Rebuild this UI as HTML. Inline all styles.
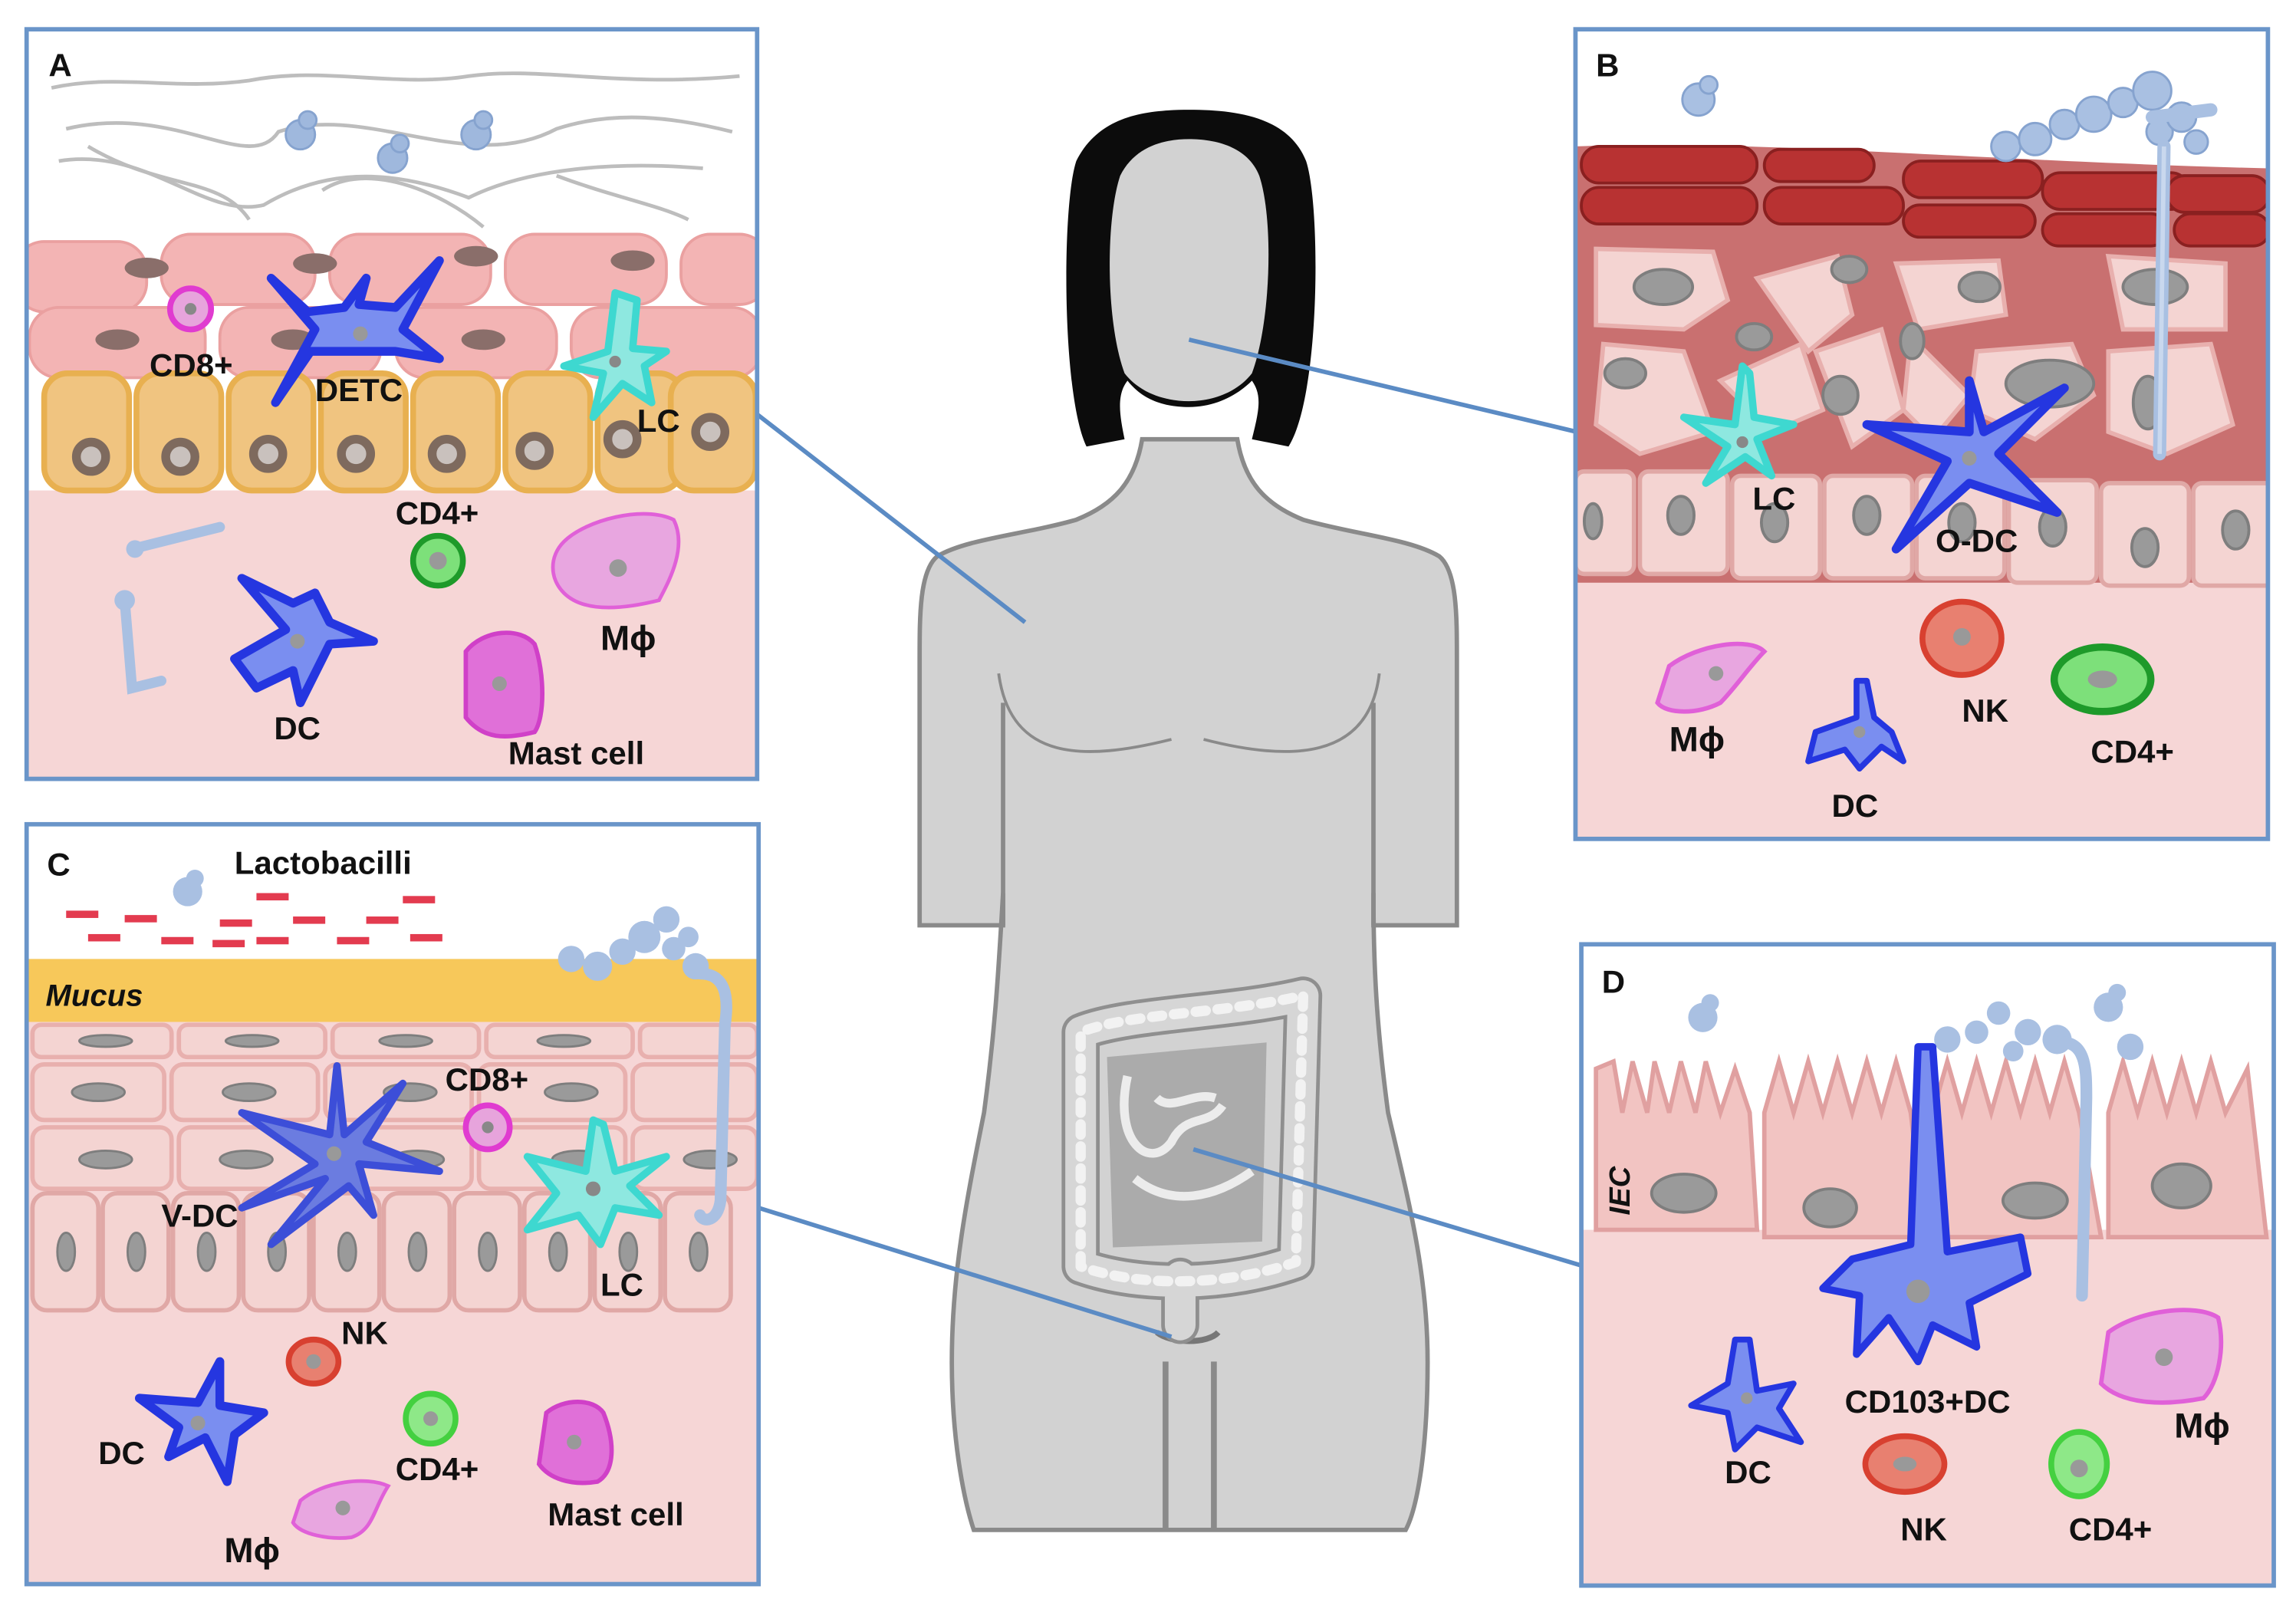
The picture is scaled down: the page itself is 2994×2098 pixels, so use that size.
<!DOCTYPE html>
<html><head><meta charset="utf-8"><style>
html,body{margin:0;padding:0;background:#fff}
svg{display:block}
text{font-family:"Liberation Sans",sans-serif;font-weight:bold;fill:#111}
</style></head><body>
<svg width="2994" height="2098" viewBox="0 0 1568 1099" xmlns="http://www.w3.org/2000/svg">
<defs>
<clipPath id="cA"><rect x="18" y="20" width="499" height="512"/></clipPath>
<clipPath id="cB"><rect x="1076" y="20" width="473" height="553"/></clipPath>
<clipPath id="cC"><rect x="18" y="563" width="500" height="519"/></clipPath>
<clipPath id="cD"><rect x="1080" y="645" width="473" height="438"/></clipPath>
</defs>
<rect width="1568" height="1099" fill="#fff"/>

<!-- BODY -->
<g>
<path d="M780 300 C775 330 760 345 735 355 C700 365 660 368 640 380 C628 390 628 420 628 450 L628 632 L685 632 L685 610 C682 660 680 700 672 760 C660 820 650 870 650 930 C650 990 660 1030 665 1045 L960 1045 C968 1030 975 990 975 930 C975 870 962 820 948 760 C940 700 938 660 938 610 L938 632 L995 632 L995 450 C995 420 995 390 983 380 C963 368 925 365 890 355 C865 345 850 330 845 300 Z" fill="#d2d2d2" stroke="#8a8a8a" stroke-width="3"/>
<path d="M685 480 L685 632 M938 480 L938 632" stroke="#8a8a8a" stroke-width="3" fill="none"/>
<path d="M682 460 C690 520 740 520 800 505 M822 505 C880 520 935 520 942 460" stroke="#8a8a8a" stroke-width="2" fill="none"/>
<path d="M796 930 L796 1045 M829 930 L829 1045" stroke="#8a8a8a" stroke-width="4"/>
<path d="M790 910 C800 918 825 918 832 910" stroke="#777" stroke-width="4" fill="none"/>
<path d="M742 305 C725 270 725 140 735 110 C750 80 780 75 812 75 C845 75 880 80 892 110 C902 140 902 270 880 305 L855 300 C860 280 862 270 855 260 C845 270 830 278 812 278 C790 278 778 270 770 260 C762 270 765 285 768 300 Z" fill="#0c0c0c"/>
<path d="M768 255 C755 220 755 150 765 120 C775 100 795 95 812 95 C830 95 852 100 860 120 C870 150 868 220 855 255 C845 268 828 274 812 274 C795 274 778 268 768 255 Z" fill="#d2d2d2"/>
<!-- intestines -->
<path d="M756 722 L865 712 L862 848 L760 852 Z" fill="#ababab"/>
<path d="M770 735 C760 780 785 800 800 780 C810 760 825 770 835 755 M775 805 C800 825 830 818 855 800 M790 750 C800 760 815 745 830 750" stroke="#ececec" stroke-width="6" fill="none"/>
<g fill="none" stroke-linecap="round" stroke-linejoin="round">
<path d="M738 865 L738 705 C770 692 840 692 890 680 L885 862 C840 878 780 880 738 865 M806 872 L806 905" stroke="#8f8f8f" stroke-width="26"/>
<path d="M738 865 L738 705 C770 692 840 692 890 680 L885 862 C840 878 780 880 738 865 M806 872 L806 905" stroke="#d6d6d6" stroke-width="21"/>
<path d="M738 865 L738 705 C770 692 840 692 890 680 L885 862 C840 878 780 880 738 865" stroke="#f2f2f2" stroke-width="7" stroke-dasharray="7 8"/>
</g>
</g>

<!-- connectors -->
<g stroke="#5b8bc4" stroke-width="3" fill="none">
<line x1="517" y1="283" x2="700" y2="425"/>
<line x1="812" y1="232" x2="1077" y2="295"/>
<line x1="518" y1="825" x2="800" y2="913"/>
<line x1="815" y1="785" x2="1082" y2="865"/>
</g>

<!-- PANEL A -->
<g clip-path="url(#cA)">
<rect x="18" y="20" width="499" height="512" fill="#fff"/>
<rect x="18" y="335" width="499" height="200" fill="#f6d6d6"/>
<g stroke="#bdbdbd" stroke-width="2.5" fill="none">
<path d="M35 60 C80 50 120 62 170 55 C220 45 270 60 320 52 C370 45 420 60 505 52"/>
<path d="M45 88 C120 70 170 120 190 90 C250 70 320 120 380 88 C420 75 460 80 500 90"/>
<path d="M40 110 C100 100 140 150 180 140 C230 110 280 120 320 135 C360 115 420 110 480 115"/>
<path d="M60 100 C110 130 150 120 170 150 M220 130 C250 110 300 130 330 155 M380 120 C420 135 450 140 470 150"/>
</g>
<g fill="#9fb8dd" stroke="#86a3cf" stroke-width="1.5">
<circle cx="205" cy="92" r="10"/><circle cx="210" cy="82" r="6"/>
<circle cx="268" cy="108" r="10"/><circle cx="273" cy="98" r="6"/>
<circle cx="325" cy="92" r="10"/><circle cx="330" cy="82" r="6"/>
</g>
<g fill="#f3b4b4" stroke="#eaa0a0" stroke-width="2">
<rect x="10" y="165" width="90" height="48" rx="20"/>
<rect x="110" y="160" width="105" height="48" rx="20"/>
<rect x="225" y="160" width="110" height="48" rx="20"/>
<rect x="345" y="160" width="110" height="48" rx="20"/>
<rect x="465" y="160" width="60" height="48" rx="20"/>
<rect x="20" y="210" width="120" height="48" rx="20"/>
<rect x="150" y="210" width="110" height="48" rx="20"/>
<rect x="270" y="210" width="110" height="48" rx="20"/>
<rect x="390" y="210" width="130" height="48" rx="20"/>
</g>
<g fill="#8a6e6a"><ellipse cx="100" cy="183" rx="15" ry="7"/><ellipse cx="215" cy="180" rx="15" ry="7"/><ellipse cx="325" cy="175" rx="15" ry="7"/><ellipse cx="432" cy="178" rx="15" ry="7"/><ellipse cx="80" cy="232" rx="15" ry="7"/><ellipse cx="200" cy="232" rx="15" ry="7"/><ellipse cx="330" cy="232" rx="15" ry="7"/></g>
<g fill="#f0c480" stroke="#e8b050" stroke-width="4">
<rect x="30" y="255" width="58" height="80" rx="16"/><rect x="93" y="255" width="58" height="80" rx="16"/><rect x="156" y="255" width="58" height="80" rx="16"/><rect x="219" y="255" width="58" height="80" rx="16"/><rect x="282" y="255" width="58" height="80" rx="16"/><rect x="345" y="255" width="58" height="80" rx="16"/><rect x="408" y="255" width="58" height="80" rx="16"/><rect x="458" y="255" width="58" height="80" rx="16"/>
</g>
<g fill="#c9c1bd" stroke="#7e6a5e" stroke-width="6"><circle cx="62" cy="312" r="10"/><circle cx="123" cy="312" r="10"/><circle cx="183" cy="310" r="10"/><circle cx="243" cy="310" r="10"/><circle cx="305" cy="310" r="10"/><circle cx="365" cy="308" r="10"/><circle cx="425" cy="300" r="10"/><circle cx="485" cy="295" r="10"/></g>
<circle cx="130" cy="211" r="14" fill="#e7a4dc" stroke="#e03bd0" stroke-width="4"/><circle cx="130" cy="211" r="4" fill="#888"/>
<path d="M185 190 L215 225 L188 275 L212 240 L270 240 L300 245 L275 225 L300 178 L270 210 L245 208 L250 190 L235 210 L210 213 Z" fill="#7a8ef0" stroke="#2536e0" stroke-width="6" stroke-linejoin="round"/>
<circle cx="246" cy="228" r="5" fill="#999"/>
<path d="M420 200 L415 240 L385 250 L412 255 L405 285 L425 262 L445 275 L440 250 L455 240 L432 238 L435 205 Z" fill="#8ee8e0" stroke="#3ed8d0" stroke-width="5" stroke-linejoin="round"/>
<circle cx="420" cy="247" r="4" fill="#888"/>
<path d="M90 375 L150 360 M85 410 L90 470 L110 465" stroke="#a9c0e2" stroke-width="7" stroke-linecap="round" fill="none"/>
<circle cx="92" cy="375" r="6" fill="#a9c0e2"/><circle cx="85" cy="410" r="7" fill="#a9c0e2"/>
<path d="M165 395 L195 430 L160 450 L175 470 L200 458 L205 480 L225 440 L255 438 L225 425 L215 405 L200 412 Z" fill="#7a8ef0" stroke="#2536e0" stroke-width="6" stroke-linejoin="round"/>
<circle cx="203" cy="438" r="5" fill="#999"/>
<circle cx="299" cy="383" r="17" fill="#7de07a" stroke="#1e9a2a" stroke-width="4"/><circle cx="299" cy="383" r="6" fill="#999"/>
<path d="M385 370 C400 355 440 345 460 355 C470 375 455 400 450 410 C430 415 400 420 385 405 C375 395 375 380 385 370 Z" fill="#e8a6e0" stroke="#e060d8" stroke-width="2.5"/>
<circle cx="422" cy="388" r="6" fill="#999"/>
<path d="M318 445 C330 430 355 428 365 440 C372 460 372 490 365 500 C345 505 330 505 318 490 Z" fill="#e070d8" stroke="#d040c8" stroke-width="3"/>
<circle cx="341" cy="467" r="5" fill="#999"/>
</g>
<rect x="18" y="20" width="499" height="512" fill="none" stroke="#6a95c9" stroke-width="3"/>
<text x="33" y="52" font-size="22">A</text>
<text x="102" y="257" font-size="22">CD8+</text>
<text x="215" y="274" font-size="22">DETC</text>
<text x="435" y="295" font-size="22">LC</text>
<text x="270" y="358" font-size="22">CD4+</text>
<text x="410" y="444" font-size="24">Mϕ</text>
<text x="187" y="505" font-size="22">DC</text>
<text x="347" y="522" font-size="22">Mast cell</text>

<!-- PANEL B -->
<g clip-path="url(#cB)">
<rect x="1076" y="20" width="473" height="553" fill="#fff"/>
<path d="M1076 100 C1200 95 1350 110 1549 115 L1549 410 C1400 400 1200 405 1076 398 Z" fill="#c97070"/>
<rect x="1076" y="398" width="473" height="180" fill="#f6d6d6"/>
<g fill="#b83232" stroke="#8a2020" stroke-width="2">
<rect x="1080" y="100" width="120" height="25" rx="12"/><rect x="1080" y="128" width="120" height="25" rx="12"/>
<rect x="1205" y="102" width="75" height="22" rx="11"/><rect x="1205" y="128" width="95" height="25" rx="12"/>
<rect x="1300" y="110" width="95" height="25" rx="12"/><rect x="1300" y="140" width="90" height="22" rx="11"/>
<rect x="1395" y="118" width="100" height="25" rx="12"/><rect x="1395" y="146" width="85" height="22" rx="11"/>
<rect x="1480" y="120" width="70" height="25" rx="12"/><rect x="1485" y="146" width="65" height="22" rx="11"/>
</g>
<g fill="#f4d4d2" stroke="#e8b0ae" stroke-width="3">
<path d="M1090 170 L1170 172 L1180 205 L1150 225 L1090 222 Z"/>
<path d="M1200 190 L1255 175 L1265 215 L1235 240 Z"/>
<path d="M1295 180 L1365 178 L1370 215 L1310 225 Z"/>
<path d="M1440 175 L1520 180 L1520 225 L1450 225 Z"/>
<path d="M1095 235 L1150 240 L1170 295 L1120 310 L1090 290 Z"/>
<path d="M1175 260 L1230 235 L1245 280 L1210 295 Z"/>
<path d="M1240 240 L1285 225 L1300 280 L1265 305 Z"/>
<path d="M1305 230 L1345 270 L1320 300 L1300 280 Z"/>
<path d="M1350 240 L1415 235 L1430 270 L1390 300 L1345 280 Z"/>
<path d="M1440 240 L1510 235 L1525 290 L1480 310 L1440 295 Z"/>
</g>
<g fill="#9a9a9a" stroke="#7e7e7e" stroke-width="2"><ellipse cx="1136" cy="196" rx="20" ry="12"/><ellipse cx="1263" cy="184" rx="12" ry="9"/><ellipse cx="1352" cy="196" rx="14" ry="10"/><ellipse cx="1472" cy="196" rx="22" ry="12"/><ellipse cx="1110" cy="255" rx="14" ry="10"/><ellipse cx="1198" cy="230" rx="12" ry="9"/><ellipse cx="1257" cy="270" rx="12" ry="13"/><ellipse cx="1306" cy="233" rx="8" ry="12"/><ellipse cx="1400" cy="262" rx="30" ry="16"/><ellipse cx="1467" cy="275" rx="10" ry="18"/></g>
<g fill="#f4d4d2" stroke="#e0a8a6" stroke-width="3">
<rect x="1076" y="322" width="40" height="70" rx="6"/><rect x="1120" y="322" width="60" height="70" rx="6"/><rect x="1183" y="325" width="60" height="70" rx="6"/><rect x="1246" y="325" width="60" height="70" rx="6"/><rect x="1309" y="325" width="60" height="70" rx="6"/><rect x="1372" y="328" width="60" height="70" rx="6"/><rect x="1435" y="330" width="60" height="70" rx="6"/><rect x="1498" y="330" width="55" height="70" rx="6"/>
</g>
<g fill="#9a9a9a" stroke="#7e7e7e" stroke-width="2"><ellipse cx="1088" cy="356" rx="6" ry="12"/><ellipse cx="1148" cy="352" rx="9" ry="13"/><ellipse cx="1212" cy="357" rx="9" ry="13"/><ellipse cx="1275" cy="352" rx="9" ry="13"/><ellipse cx="1340" cy="357" rx="9" ry="13"/><ellipse cx="1402" cy="360" rx="9" ry="13"/><ellipse cx="1465" cy="374" rx="9" ry="13"/><ellipse cx="1527" cy="362" rx="9" ry="13"/></g>
<g fill="#a9c0e2" stroke="#86a3cf" stroke-width="1.5">
<circle cx="1160" cy="68" r="11"/><circle cx="1167" cy="58" r="6"/>
<circle cx="1370" cy="100" r="10"/><circle cx="1390" cy="95" r="11"/><circle cx="1410" cy="85" r="10"/><circle cx="1430" cy="78" r="12"/><circle cx="1450" cy="70" r="10"/><circle cx="1470" cy="62" r="13"/><circle cx="1475" cy="90" r="9"/><circle cx="1490" cy="80" r="10"/><circle cx="1500" cy="97" r="8"/>
</g>
<path d="M1470 80 L1510 75 M1478 100 L1475 310" stroke="#a9c0e2" stroke-width="9" stroke-linecap="round" fill="none"/>
<path d="M1478 100 L1475 310" stroke="#c9d8ee" stroke-width="3" fill="none"/>
<path d="M1190 250 L1185 290 L1150 285 L1180 305 L1165 330 L1192 312 L1210 325 L1200 300 L1225 290 L1198 285 L1195 255 Z" fill="#8ee8e0" stroke="#3ed8d0" stroke-width="5" stroke-linejoin="round"/>
<circle cx="1190" cy="302" r="4" fill="#888"/>
<path d="M1345 260 L1345 295 L1275 290 L1330 315 L1295 375 L1345 330 L1405 350 L1365 310 L1410 265 L1355 295 Z" fill="#7a8ef0" stroke="#2536e0" stroke-width="6" stroke-linejoin="round"/>
<circle cx="1345" cy="313" r="5" fill="#999"/>
<path d="M1140 455 C1160 440 1195 435 1205 445 C1195 455 1185 470 1175 480 C1160 488 1138 488 1132 480 Z" fill="#e8a6e0" stroke="#e060d8" stroke-width="3"/>
<circle cx="1172" cy="460" r="5" fill="#999"/>
<path d="M1268 465 L1268 490 L1240 500 L1235 520 L1260 512 L1270 525 L1285 510 L1300 520 L1292 500 L1280 490 L1275 465 Z" fill="#7a8ef0" stroke="#2536e0" stroke-width="4" stroke-linejoin="round"/>
<circle cx="1270" cy="500" r="4" fill="#999"/>
<ellipse cx="1340" cy="436" rx="27" ry="25" fill="#e88070" stroke="#d84030" stroke-width="4"/><circle cx="1340" cy="435" r="6" fill="#999"/>
<ellipse cx="1436" cy="464" rx="33" ry="22" fill="#7de07a" stroke="#1e9a2a" stroke-width="5"/><ellipse cx="1436" cy="464" rx="10" ry="6" fill="#999"/>
</g>
<rect x="1076" y="20" width="473" height="553" fill="none" stroke="#6a95c9" stroke-width="3"/>
<text x="1090" y="52" font-size="22">B</text>
<text x="1197" y="348" font-size="22">LC</text>
<text x="1322" y="377" font-size="22">O-DC</text>
<text x="1340" y="493" font-size="22">NK</text>
<text x="1140" y="513" font-size="24">Mϕ</text>
<text x="1428" y="521" font-size="22">CD4+</text>
<text x="1251" y="558" font-size="22">DC</text>

<!-- PANEL C -->
<g clip-path="url(#cC)">
<rect x="18" y="563" width="500" height="519" fill="#fff"/>
<rect x="18" y="655" width="500" height="45" fill="#f7c85a"/>
<rect x="18" y="698" width="500" height="390" fill="#f6d6d6"/>
<g fill="#e33b4f"><rect x="45" y="622" width="22" height="5"/><rect x="85" y="625" width="22" height="5"/><rect x="60" y="638" width="22" height="5"/><rect x="110" y="640" width="22" height="5"/><rect x="150" y="628" width="22" height="5"/><rect x="175" y="610" width="22" height="5"/><rect x="200" y="626" width="22" height="5"/><rect x="175" y="640" width="22" height="5"/><rect x="230" y="640" width="22" height="5"/><rect x="250" y="626" width="22" height="5"/><rect x="275" y="612" width="22" height="5"/><rect x="280" y="638" width="22" height="5"/><rect x="145" y="642" width="22" height="5"/></g>
<circle cx="128" cy="609" r="10" fill="#a9c0e2"/><circle cx="133" cy="600" r="6" fill="#a9c0e2"/>
<g fill="#f4d4d2" stroke="#e8b0ae" stroke-width="3">
<rect x="22" y="700" width="95" height="22" rx="6"/><rect x="122" y="700" width="100" height="22" rx="6"/><rect x="227" y="700" width="100" height="22" rx="6"/><rect x="332" y="700" width="100" height="22" rx="6"/><rect x="437" y="700" width="80" height="22" rx="6"/>
<rect x="22" y="727" width="90" height="38" rx="8"/><rect x="117" y="727" width="100" height="38" rx="8"/><rect x="222" y="727" width="100" height="38" rx="8"/><rect x="327" y="727" width="100" height="38" rx="8"/><rect x="432" y="727" width="85" height="38" rx="8"/>
<rect x="22" y="770" width="95" height="42" rx="8"/><rect x="122" y="770" width="95" height="42" rx="8"/><rect x="222" y="770" width="100" height="42" rx="8"/><rect x="327" y="770" width="100" height="42" rx="8"/><rect x="432" y="770" width="85" height="42" rx="8"/>
</g>
<g fill="#f4d4d2" stroke="#e0a8a6" stroke-width="3">
<rect x="22" y="815" width="45" height="80" rx="10"/><rect x="70" y="815" width="45" height="80" rx="10"/><rect x="118" y="815" width="45" height="80" rx="10"/><rect x="166" y="815" width="45" height="80" rx="10"/><rect x="214" y="815" width="45" height="80" rx="10"/><rect x="262" y="815" width="45" height="80" rx="10"/><rect x="310" y="815" width="45" height="80" rx="10"/><rect x="358" y="815" width="45" height="80" rx="10"/><rect x="406" y="815" width="45" height="80" rx="10"/><rect x="454" y="815" width="45" height="80" rx="10"/>
</g>
<g fill="#9a9a9a" stroke="#7e7e7e" stroke-width="1.5">
<ellipse cx="72" cy="711" rx="18" ry="4"/><ellipse cx="172" cy="711" rx="18" ry="4"/><ellipse cx="277" cy="711" rx="18" ry="4"/><ellipse cx="385" cy="711" rx="18" ry="4"/>
<ellipse cx="67" cy="746" rx="18" ry="6"/><ellipse cx="170" cy="746" rx="18" ry="6"/><ellipse cx="280" cy="746" rx="18" ry="6"/><ellipse cx="390" cy="746" rx="18" ry="6"/>
<ellipse cx="72" cy="792" rx="18" ry="6"/><ellipse cx="168" cy="792" rx="18" ry="6"/><ellipse cx="285" cy="792" rx="18" ry="6"/><ellipse cx="395" cy="792" rx="18" ry="6"/><ellipse cx="485" cy="792" rx="18" ry="6"/>
<ellipse cx="45" cy="855" rx="6" ry="13"/><ellipse cx="93" cy="855" rx="6" ry="13"/><ellipse cx="141" cy="855" rx="6" ry="13"/><ellipse cx="189" cy="855" rx="6" ry="13"/><ellipse cx="237" cy="855" rx="6" ry="13"/><ellipse cx="285" cy="855" rx="6" ry="13"/><ellipse cx="333" cy="855" rx="6" ry="13"/><ellipse cx="381" cy="855" rx="6" ry="13"/><ellipse cx="429" cy="855" rx="6" ry="13"/><ellipse cx="477" cy="855" rx="6" ry="13"/>
</g>
<g fill="#a9c0e2"><circle cx="390" cy="655" r="9"/><circle cx="408" cy="660" r="10"/><circle cx="425" cy="650" r="9"/><circle cx="440" cy="640" r="11"/><circle cx="455" cy="628" r="9"/><circle cx="460" cy="648" r="8"/><circle cx="475" cy="660" r="9"/><circle cx="470" cy="640" r="7"/></g>
<path d="M478 665 C495 665 498 680 495 700 L492 820 C490 835 480 835 478 830" stroke="#a9c0e2" stroke-width="8" fill="none" stroke-linecap="round"/>
<path d="M230 728 L225 775 L165 760 L215 795 L165 825 L222 805 L185 850 L238 810 L255 830 L245 795 L300 800 L250 780 L275 740 L235 775 Z" fill="#6b7ce0" stroke="#3c4ed8" stroke-width="5" stroke-linejoin="round"/>
<circle cx="228" cy="788" r="5" fill="#999"/>
<circle cx="333" cy="770" r="15" fill="#e7a4dc" stroke="#e03bd0" stroke-width="4"/><circle cx="333" cy="770" r="4" fill="#888"/>
<path d="M405 765 L400 800 L360 790 L380 815 L360 840 L395 830 L410 850 L420 825 L450 830 L430 810 L455 790 L420 800 L412 768 Z" fill="#8ee8e0" stroke="#3ed8d0" stroke-width="5" stroke-linejoin="round"/>
<circle cx="405" cy="812" r="5" fill="#888"/>
<ellipse cx="214" cy="930" rx="17" ry="15" fill="#e88070" stroke="#d84030" stroke-width="4"/><circle cx="214" cy="930" r="5" fill="#999"/>
<path d="M150 930 L135 958 L95 955 L122 975 L115 995 L140 982 L155 1012 L160 980 L180 965 L150 960 Z" fill="#7a8ef0" stroke="#2536e0" stroke-width="6" stroke-linejoin="round"/>
<circle cx="135" cy="972" r="5" fill="#999"/>
<circle cx="294" cy="969" r="17" fill="#8ee888" stroke="#44d040" stroke-width="4"/><circle cx="294" cy="969" r="5" fill="#999"/>
<path d="M373 965 C385 955 405 955 412 965 C420 985 420 1005 408 1012 C390 1015 375 1010 368 1000 Z" fill="#e070d8" stroke="#d040c8" stroke-width="3"/>
<circle cx="392" cy="985" r="5" fill="#999"/>
<path d="M205 1025 C220 1012 250 1008 265 1015 C255 1030 255 1045 240 1050 C225 1052 205 1048 200 1040 Z" fill="#e8a6e0" stroke="#e060d8" stroke-width="2.5"/>
<circle cx="234" cy="1030" r="5" fill="#999"/>
</g>
<rect x="18" y="563" width="500" height="519" fill="none" stroke="#6a95c9" stroke-width="3"/>
<text x="32" y="598" font-size="22">C</text>
<text x="160" y="597" font-size="22">Lactobacilli</text>
<text x="31" y="687" font-size="21" font-style="italic">Mucus</text>
<text x="304" y="745" font-size="22">CD8+</text>
<text x="110" y="838" font-size="22">V-DC</text>
<text x="410" y="885" font-size="22">LC</text>
<text x="233" y="918" font-size="22">NK</text>
<text x="67" y="1000" font-size="22">DC</text>
<text x="270" y="1011" font-size="22">CD4+</text>
<text x="374" y="1042" font-size="22">Mast cell</text>
<text x="153" y="1067" font-size="24">Mϕ</text>

<!-- PANEL D -->
<g clip-path="url(#cD)">
<rect x="1080" y="645" width="473" height="438" fill="#fff"/>
<rect x="1080" y="840" width="473" height="250" fill="#f6d6d6"/>
<g fill="#f2c4c2" stroke="#e0a0a0" stroke-width="3">
<path d="M1090 840 L1090 730 L1102 725 L1108 760 L1115 725 L1125 760 L1130 725 L1140 760 L1148 725 L1158 760 L1165 725 L1175 760 L1185 730 L1195 760 L1200 840 Z"/>
<path d="M1205 845 L1205 760 L1215 725 L1225 760 L1235 725 L1245 760 L1255 725 L1265 760 L1275 725 L1285 760 L1295 725 L1305 760 L1315 845 Z"/>
<path d="M1320 845 L1320 760 L1330 725 L1340 760 L1350 725 L1360 760 L1370 725 L1380 760 L1390 725 L1400 760 L1410 725 L1420 760 L1435 845 Z"/>
<path d="M1440 845 L1440 760 L1450 725 L1460 760 L1470 725 L1480 760 L1490 725 L1500 760 L1510 725 L1520 760 L1535 730 L1548 845 Z"/>
</g>
<g fill="#9a9a9a" stroke="#7e7e7e" stroke-width="2"><ellipse cx="1150" cy="815" rx="22" ry="13"/><ellipse cx="1250" cy="825" rx="18" ry="13"/><ellipse cx="1390" cy="820" rx="22" ry="12"/><ellipse cx="1490" cy="810" rx="20" ry="15"/></g>
<g fill="#a9c0e2"><circle cx="1163" cy="695" r="10"/><circle cx="1168" cy="685" r="6"/><circle cx="1330" cy="710" r="9"/><circle cx="1350" cy="705" r="8"/><circle cx="1365" cy="692" r="8"/><circle cx="1385" cy="705" r="9"/><circle cx="1375" cy="718" r="7"/><circle cx="1405" cy="710" r="10"/><circle cx="1440" cy="688" r="10"/><circle cx="1446" cy="678" r="6"/><circle cx="1455" cy="715" r="9"/></g>
<path d="M1405 712 C1425 710 1425 730 1425 750 L1422 885" stroke="#a9c0e2" stroke-width="8" fill="none" stroke-linecap="round"/>
<path d="M1310 715 L1305 850 L1265 860 L1245 880 L1270 885 L1268 925 L1290 900 L1310 930 L1320 905 L1350 920 L1345 890 L1385 870 L1380 845 L1330 855 L1320 715 Z" fill="#7a8ef0" stroke="#2536e0" stroke-width="5" stroke-linejoin="round"/>
<circle cx="1310" cy="882" r="8" fill="#999"/>
<path d="M1185 915 L1180 945 L1155 960 L1180 965 L1185 990 L1200 975 L1230 985 L1215 962 L1225 945 L1200 950 L1195 915 Z" fill="#7a8ef0" stroke="#2536e0" stroke-width="4" stroke-linejoin="round"/>
<circle cx="1193" cy="955" r="4" fill="#999"/>
<ellipse cx="1301" cy="1000" rx="27" ry="19" fill="#e88070" stroke="#d84030" stroke-width="4"/><ellipse cx="1301" cy="1000" rx="8" ry="5" fill="#999"/>
<path d="M1440 910 C1460 895 1500 890 1515 900 C1520 920 1515 945 1505 955 C1480 960 1450 960 1435 945 Z" fill="#e8a6e0" stroke="#e060d8" stroke-width="3"/>
<circle cx="1478" cy="927" r="6" fill="#999"/>
<ellipse cx="1420" cy="1000" rx="19" ry="22" fill="#8ee888" stroke="#44d040" stroke-width="4"/><circle cx="1420" cy="1003" r="6" fill="#999"/>
</g>
<rect x="1080" y="645" width="473" height="438" fill="none" stroke="#6a95c9" stroke-width="3"/>
<text x="1094" y="678" font-size="22">D</text>
<text x="0" y="0" font-size="20" font-style="italic" transform="translate(1113 830) rotate(-90)">IEC</text>
<text x="1260" y="965" font-size="22">CD103+DC</text>
<text x="1485" y="982" font-size="24">Mϕ</text>
<text x="1178" y="1013" font-size="22">DC</text>
<text x="1298" y="1052" font-size="22">NK</text>
<text x="1413" y="1052" font-size="22">CD4+</text>
</svg>
</body></html>
